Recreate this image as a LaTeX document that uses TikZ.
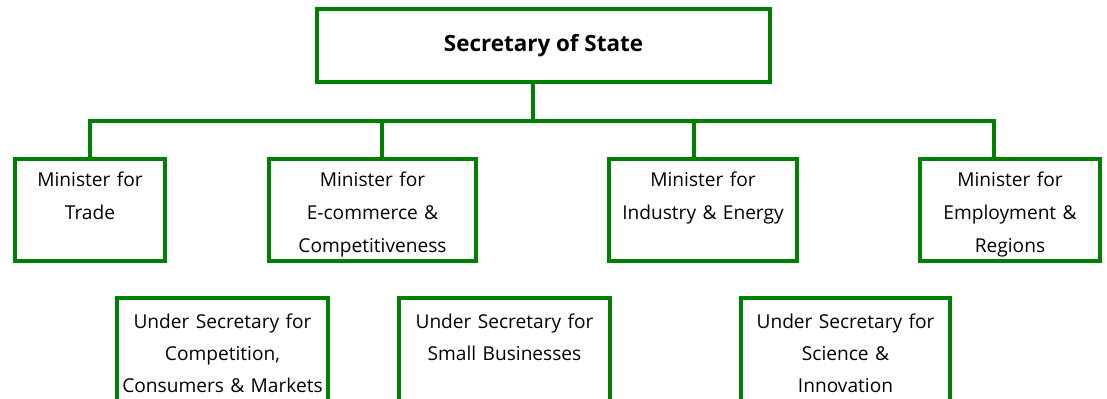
\documentclass[tikz,border=0pt]{standalone}
\usepackage{fontspec}
\setmainfont{Open Sans}
\usepackage{tikz}

\begin{document}
\begin{tikzpicture}[x=1bp,y=-1bp,
  box/.style={draw=orgGreen,line width=4.5bp,outer sep=0pt,inner xsep=0pt,inner ysep=0pt,
    align=center,anchor=north},
  minister/.style={box,text height=27bp,text depth=75bp,font=\fontsize{19.2}{33.5}\selectfont},
  under/.style={box,text height=30bp,text depth=130bp,font=\fontsize{19.2}{32.5}\selectfont},
  link/.style={draw=orgGreen,line width=4.5bp}]
% Define colours
\definecolor{orgGreen}{RGB}{0,128,0}

% Page frame, lower boxes run off the edge
\useasboundingbox (0,0) rectangle (1107,398);
\clip (0,0) rectangle (1107,398);

% Draw top box
\node[draw=orgGreen,line width=4.5bp,outer sep=0pt,minimum width=453bp,minimum height=73bp,
  font=\fontsize{22.5}{26}\selectfont\bfseries] (sos) at (543.5,45.5) {Secretary of State};

% Draw ministers
\node[minister,text width=150bp] (trade) at (90,159) {Minister for\\Trade};
\node[minister,text width=207bp] (ecom) at (372.5,159) {Minister for\\E-commerce \&\\Competitiveness};
\node[minister,text width=188bp] (indus) at (703,159) {Minister for\\Industry \& Energy};
\node[minister,text width=180bp] (employ) at (1010,159) {Minister for\\Employment \&\\Regions};

% Draw under secretaries
\node[under,text width=211bp] (compet) at (222.5,298) {Under Secretary for\\Competition,\\Consumers \& Markets};
\node[under,text width=211bp] (small) at (504.5,298) {Under Secretary for\\Small Businesses};
\node[under,text width=209bp] (science) at (845.5,298) {Under Secretary for\\Science \&\\Innovation};

% Draw connecting lines
\coordinate (bus) at (533,121);
\coordinate (d1) at (90,121);
\coordinate (d2) at (382,121);
\coordinate (d3) at (694,121);
\coordinate (d4) at (994,121);
\draw[link] (sos.south -| bus) -- (bus);
\draw[link] (trade.north -| d1) -- (d1) -- (d4) -- (employ.north -| d4);
\draw[link] (d2) -- (ecom.north -| d2);
\draw[link] (d3) -- (indus.north -| d3);
\end{tikzpicture}
\end{document}
